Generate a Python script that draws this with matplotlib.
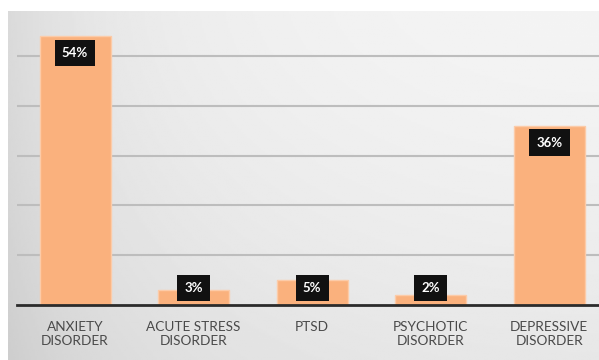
import numpy as np
import matplotlib.pyplot as plt

categories = ['ANXIETY\nDISORDER', 'ACUTE STRESS\nDISORDER', 'PTSD',
              'PSYCHOTIC\nDISORDER', 'DEPRESSIVE\nDISORDER']
values = [54, 3, 5, 2, 36]
labels = ['54%', '3%', '5%', '2%', '36%']

plt.rcParams['font.family'] = ['Lato', 'DejaVu Sans']

fig = plt.figure(figsize=(5.99, 3.6), dpi=100)
fig.patch.set_facecolor('white')

# gray gradient panel behind the chart
bg = fig.add_axes([8/599, 0, 591/599, 349/360], zorder=0)
gx = np.linspace(0, 1, 300)
gy = np.linspace(0, 1, 200)
X, Y = np.meshgrid(gx, gy)
shade = 0.955 - 0.06*np.exp(-X/0.15) - 0.04*(1-X)**2 - 0.05*Y**1.5
bg.imshow(shade, cmap='gray', vmin=0, vmax=1, aspect='auto', extent=[0, 1, 1, 0])
bg.axis('off')

ax = fig.add_axes([17/599, 55/360, 582/599, 294/360], zorder=1)
ax.patch.set_alpha(0)
x = np.arange(len(values))
ax.bar(x, values, width=0.6, color='#FAB17D', edgecolor='#FCCBA8', linewidth=1, zorder=3)

ax.set_xlim(-0.49, 4.42)
ax.set_ylim(0, 59)
ax.set_yticks([10, 20, 30, 40, 50])
ax.yaxis.grid(True, color='#BDBDBD', linewidth=1.5)
ax.set_axisbelow(True)
ax.tick_params(axis='y', left=False, labelleft=False)
ax.tick_params(axis='x', bottom=False, pad=8)
ax.set_xticks(x)
ax.set_xticklabels(categories, fontsize=9.8, color='#4A4A4A', linespacing=1.2)
for s in ['top', 'right', 'left']:
    ax.spines[s].set_visible(False)
ax.spines['bottom'].set_color('#2B2B2B')
ax.spines['bottom'].set_linewidth(2)
ax.spines['bottom'].set_zorder(4)

for xi, v, lab in zip(x, values, labels):
    ypos = max(v - 3.4, 3.4)
    ax.text(xi, ypos, lab, ha='center', va='center', color='white', fontsize=9.5,
            fontweight='bold', zorder=5,
            bbox=dict(boxstyle='square,pad=0.55', facecolor='#111111', edgecolor='none'))

fig.savefig('out.png', dpi=100)
